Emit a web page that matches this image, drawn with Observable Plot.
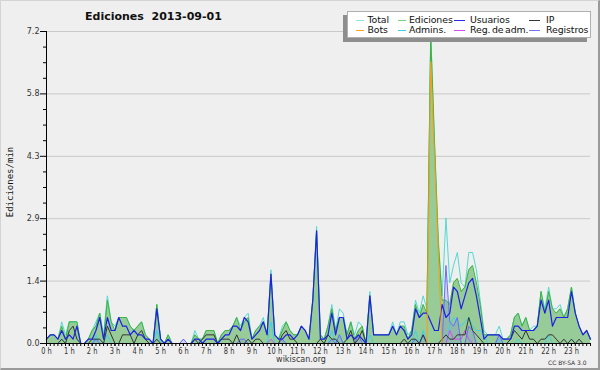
<!DOCTYPE html>
<html><head><meta charset="utf-8">
<script src="https://cdn.jsdelivr.net/npm/d3@7"></script>
<script src="https://cdn.jsdelivr.net/npm/@observablehq/plot@0.6"></script>
<style>
html,body{margin:0;padding:0;background:#ffffff;}
#chart{position:relative;width:600px;height:370px;overflow:hidden;background:#efefef;font-family:"DejaVu Sans",sans-serif;}
#chart svg{position:absolute;left:0;top:0;}
.abs{position:absolute;white-space:nowrap;line-height:1;}
#frame{position:absolute;left:0;top:0;width:600px;height:370px;box-sizing:border-box;border-top:1px solid #d4d4d4;border-left:1px solid #d4d4d4;border-right:2px solid #9a9a9a;border-bottom:2px solid #9a9a9a;pointer-events:none;}
#title{left:85px;top:11.4px;font-size:11px;font-weight:bold;color:#111;}
#legend{position:absolute;left:347px;top:11px;width:244px;height:27px;background:#fff;border:1px solid #b0b0b0;box-shadow:-4px 4px 0 #8e8e8e;box-sizing:border-box;}
.lg{position:absolute;font-family:"DejaVu Sans",sans-serif;font-size:9.4px;word-spacing:-1.3px;letter-spacing:-0.1px;line-height:1;color:#111;white-space:nowrap;}
.ls{position:absolute;height:1px;}
#ylab{left:10px;top:182px;transform:translate(-50%,-50%) rotate(-90deg);font-family:"DejaVu Sans Mono",monospace;font-size:9px;color:#111;}
#site{left:301px;top:356.2px;transform:translateX(-50%);font-size:8px;color:#333;}
#lic{left:548px;top:359.5px;font-size:6px;color:#333;}
</style></head>
<body><div id="chart"></div>
<script>
// ---- data (edits per minute, 10-minute bins, 2013-09-01) ----
const total = [
 [0.1,0.2,0.2,0.1,0.5,0.2],[0.5,0.5,0.5,0,0,0.1],[0.3,0.5,0.7,0.2,1.1,0.5],[0.4,0.6,0.6,0.6,0.4,0.3],
 [0.4,0.5,0.2,0.1,0,0.9],[0.1,0,0.2,0,0,0],[0.1,0,0,0.3,0.1,0.1],[0.3,0.3,0.3,0,0.2,0.3],
 [0.3,0.4,0.6,0.4,0.6,0.7],[0.1,0.3,0.4,0.6,0.2,1.7],[0.2,0.1,0.4,0.5,0.3,0.2],[0.2,0.4,0.3,0.1,1.0,2.7],
 [0.2,0.1,0.4,0.9,0.3,0.8],[0.7,0.2,0.5,0.2,0.5,0.4],[0,1.2,0.2,0.2,0.2,0.2],[0.2,0.5,0.2,0.5,0.5,0.2],
 [0.3,1.0,0.7,1.1,0.8,7.2],[4.7,2.4,1.1,2.9,1.4,1.8],[2.1,1.4,1.3,2.1,2.1,1.7],[1.0,0.3,0.2,0.2,0.2,0.4],
 [0.1,0.1,0.2,0.6,0.7,0.4],[0.6,0.3,0.4,0.4,1.2,0.8],[1.3,0.8,0.8,0.9,0.6,0.8],[1.3,0.7,0.4,0.2,0.3,0.1]
].flat();
const ediciones = [
 [0.1,0.2,0.2,0.1,0.4,0.1],[0.5,0.5,0.5,0,0,0.1],[0.3,0.4,0.7,0.1,1.0,0.5],[0.3,0.6,0.6,0.6,0.4,0.3],
 [0.4,0.5,0.2,0.1,0,0.9],[0.1,0,0.2,0,0,0],[0,0,0,0.2,0.1,0.1],[0.3,0.3,0.3,0,0.2,0.3],
 [0.3,0.4,0.6,0.3,0.5,0.6],[0.1,0.3,0.4,0.5,0.2,1.6],[0.2,0.1,0.3,0.5,0.3,0.2],[0.2,0.4,0.3,0.1,1.0,2.6],
 [0.2,0.1,0.4,0.8,0.3,0.6],[0.6,0.2,0.5,0.1,0.3,0.4],[0,1.1,0.2,0.2,0.2,0.2],[0.2,0.4,0.2,0.4,0.4,0.1],
 [0.3,0.9,0.6,0.9,0.7,7.1],[4.6,2.3,1.0,1.0,0.9,1.4],[1.5,1.2,1.3,1.7,1.8,1.4],[0.9,0.2,0.2,0.2,0.2,0.2],
 [0.1,0.1,0.2,0.6,0.7,0.4],[0.6,0.3,0.3,0.4,1.2,0.7],[1.2,0.8,0.7,0.8,0.6,0.8],[1.3,0.7,0.4,0.2,0.3,0.1]
].flat();
const usuarios = [
 [0.1,0.2,0.2,0.1,0.3,0.1],[0.2,0.1,0.4,0,0,0.1],[0.1,0.3,0.6,0.1,0.6,0.3],[0.3,0.6,0.4,0.4,0.2,0.3],
 [0.2,0.2,0.1,0.1,0,0.8],[0.1,0,0.1,0,0,0],[0,0,0,0.1,0.1,0],[0.1,0.1,0.1,0,0.1,0.2],
 [0.2,0.4,0.4,0.3,0.6,0.5],[0.1,0.2,0.3,0.5,0.2,1.6],[0.2,0.1,0.1,0.2,0.2,0.1],[0.2,0.4,0.3,0.1,1.0,2.6],
 [0.1,0.1,0.2,0.7,0.2,0.6],[0.6,0.1,0.2,0.1,0.2,0.1],[0,1.1,0.2,0.2,0.2,0.2],[0.2,0.4,0.2,0.4,0.3,0.1],
 [0.2,0.8,0.6,0.7,0.7,0.5],[0.3,0.3,0.9,0.6,0.7,1.3],[1.2,0.8,1.1,1.4,1.5,1.1],[0.6,0.1,0.2,0.2,0.2,0.2],
 [0.1,0.1,0.1,0.4,0.4,0.3],[0.3,0.3,0.3,0.4,1.0,0.7],[1.0,0.4,0.6,0.6,0.6,0.6],[1.2,0.7,0.4,0.2,0.3,0.1]
].flat();
const ip = [
 [0,0,0,0,0.1,0],[0.3,0.4,0.1,0,0,0],[0.1,0.1,0.1,0,0.4,0.2],[0,0,0.2,0.2,0.2,0],
 [0.2,0.3,0.1,0,0,0.1],[0,0,0.1,0,0,0],[0,0,0,0.1,0,0.1],[0.2,0.2,0.2,0,0.1,0.1],
 [0.1,0,0.2,0,0,0.1],[0,0.1,0.1,0,0,0],[0,0,0.2,0.3,0.1,0.1],[0,0,0,0,0,0],
 [0.1,0,0.2,0.1,0.1,0],[0,0.1,0.3,0,0.1,0.3],[0,0,0,0,0,0],[0,0,0,0,0.1,0],
 [0.1,0.1,0,0.2,0,0],[0,0,0.1,0.2,0.1,0.1],[0.2,0.2,0.2,0.6,0.3,0.2],[0.1,0,0,0,0,0],
 [0,0,0.1,0.3,0.2,0.1],[0.3,0.1,0.1,0,0.1,0.1],[0.2,0.2,0.1,0,0.1,0],[0.1,0,0.1,0,0,0]
].flat();
const bots = [
 [0,0,0,0,0,0],[0,0,0,0,0,0],[0,0,0,0,0,0],[0,0,0,0,0,0],[0,0,0,0,0,0],[0,0,0,0,0,0],
 [0,0,0,0,0,0],[0,0,0,0,0,0],[0,0,0,0,0,0],[0,0,0,0,0,0],[0,0,0,0,0,0],[0,0,0,0,0,0],
 [0,0,0,0,0,0],[0,0,0,0,0,0],[0,0,0,0,0,0],[0,0,0,0,0,0],[0,0,0,0,0,6.5],[4.3,2.1,0,0,0,0],
 [0,0,0,0,0,0],[0,0,0,0,0,0],[0,0,0,0,0,0],[0,0,0,0,0,0],[0,0,0,0,0,0],[0,0,0,0,0,0]
].flat();
const admins = [
 [0,0,0,0,0.1,0],[0,0,0,0,0,0],[0,0.2,0,0,0.2,0],[0,0,0,0,0,0],[0,0,0,0,0,0.3],[0,0,0,0,0,0],
 [0,0,0,0,0,0],[0,0,0,0,0,0],[0,0,0,0,0,0],[0,0,0,0,0,0.5],[0,0,0,0,0,0],[0,0,0,0,0,0],
 [0,0,0,0.3,0,0.2],[0,0,0,0,0,0],[0,0.2,0,0,0,0],[0,0,0,0,0,0],[0,0.3,0,0.3,0,0],[0,0,0,0,0.4,0.6],
 [0.5,0.4,0.5,0.6,0.4,0.3],[0.3,0.2,0,0,0,0.1],[0,0,0,0,0.1,0],[0,0,0,0,0,0],[0.2,0,0,0,0,0],[0.1,0,0,0,0,0]
].flat();
const regAdm = [
 [0,0,0,0,0,0],[0,0,0,0,0,0],[0,0,0,0,0,0],[0,0,0,0,0,0],[0,0,0,0,0,0],[0,0,0,0,0,0],
 [0,0,0,0,0,0],[0,0,0,0,0,0],[0,0,0,0,0,0],[0,0,0,0,0,0.1],[0,0,0,0,0,0],[0,0,0,0,0,0],
 [0,0,0,0,0,0],[0,0,0,0,0,0],[0,0,0,0,0,0],[0,0,0,0,0,0],[0,0,0,0,0,0],[0,0,0,0,0.3,0.1],
 [0.1,0.1,0.3,0.1,0,0],[0,0,0,0,0,0],[0,0,0,0,0,0],[0,0,0,0,0,0],[0,0,0,0,0,0],[0,0,0,0,0,0]
].flat();
const registros = [
 [0,0,0,0,0,0],[0,0,0,0,0,0],[0,0.1,0,0,0,0],[0,0,0,0,0,0],[0,0,0,0,0,0],[0,0,0,0,0,0],
 [0.1,0,0,0,0,0],[0,0,0,0,0,0],[0,0,0,0.1,0.1,0],[0,0,0,0,0,0],[0,0,0.1,0,0,0],[0,0,0,0,0,0],
 [0,0,0,0.1,0,0.2],[0,0,0,0,0.2,0],[0,0,0,0,0,0],[0,0,0,0,0,0],[0,0.1,0,0.2,0,0],[0,0,0,1.8,0.5,0.4],
 [0.6,0,0,0.4,0.3,0],[0,0,0,0,0,0.2],[0,0,0,0,0,0],[0,0,0,0,0,0],[0,0,0,0,0,0],[0,0,0,0,0,0]
].flat();

// ---- ticks & labels ----
const hourLabels = ["0 h","1 h","2 h","3 h","4 h","5 h","6 h","7 h","8 h","9 h","10 h","11 h","12 h","13 h","14 h","15 h","16 h","17 h","18 h","19 h","20 h","21 h","22 h","23 h"];
const hourMinutes = [0,60,120,180,240,300,360,420,480,540,600,660,720,780,840,900,960,1020,1080,1140,1200,1260,1320,1380];
const yTicks = [0,1.44,2.88,4.32,5.76,7.2];
const yLabels = ["0.0","1.4","2.9","4.3","5.8","7.2"];
const yMinor = [0.36,0.72,1.08,1.8,2.16,2.52,3.24,3.6,3.96,4.68,5.04,5.4,6.12,6.48,6.84];

const seriesNames = ["Total","Ediciones","Usuarios","IP","Bots","Admins.","Reg. de adm.","Registros"];
const seriesColors = ["#8ee6e0","#7fd07f","#2b2bee","#333333","#ffa31a","#3cd2ea","#d24ef0","#7474ff"];

const binMinutes = ediciones.map((_, i) => i * 10);
const rows = binMinutes.map((t, i) => ({t, total: total[i], ed: ediciones[i], us: usuarios[i], ip: ip[i],
  bots: bots[i], adm: admins[i], reg: regAdm[i], log: registros[i]}));

const line = (key, stroke, w = 1) => Plot.lineY(rows, {x: "t", y: key, stroke, strokeWidth: w});
const labelOf = new Map(hourMinutes.map((m, i) => [m, hourLabels[i]]));
const yLabelOf = new Map(yTicks.map((v, i) => [v, yLabels[i]]));

const chart = Plot.plot({
  width: 600, height: 370,
  marginLeft: 46, marginRight: 10, marginTop: 31, marginBottom: 27,
  style: {background: "transparent", fontFamily: "DejaVu Sans, sans-serif", color: "#222", overflow: "visible"},
  x: {domain: [0, 1430], axis: null},
  y: {domain: [0, 7.2], axis: null, label: null},
  marks: [
    Plot.gridY(yTicks, {stroke: "#c9c9c9", strokeOpacity: 1}),
    Plot.areaY(rows, {x: "t", y: "ed", fill: "#97cb97", fillOpacity: 1}),
    Plot.areaY(rows, {x: "t", y: "log", fill: "#7474ff", fillOpacity: 0.2}),
    line("total", "#55d8d2"),
    line("ed", "#3cb43c"),
    line("adm", "#3cd2ea"),
    line("reg", "#d24ef0"),
    line("log", "#6b6bff"),
    line("ip", "#333333"),
    line("us", "#1f1fe6", 1.2),
    line("bots", "#ff9c10"),
    Plot.ruleX([0], {stroke: "#000"}),
    Plot.ruleY([0], {stroke: "#000"}),
    Plot.axisY({ticks: yTicks, tickFormat: d => yLabelOf.get(d), tickSize: 6, tickPadding: 1, fontSize: 8, label: null, stroke: "#000", fill: "#333"}),
    Plot.axisY({ticks: yMinor, tickFormat: () => "", tickSize: 3, label: null, stroke: "#000"}),
    Plot.axisX({ticks: binMinutes.concat([1430]), tickFormat: () => "", tickSize: 3, label: null, stroke: "#000"}),
    Plot.axisX({ticks: hourMinutes, tickFormat: d => labelOf.get(d), tickSize: 3, tickPadding: 1, fontSize: 9,
      label: null, stroke: "#000", fill: "#333"})
  ]
});

const root = document.getElementById("chart");
root.appendChild(chart);

// narrow the hour labels (the reference uses a condensed pixel font)
const hourSet = new Set(hourLabels);
Array.from(chart.querySelectorAll("text")).filter(t => hourSet.has(t.textContent.trim())).forEach(t => {
  const len = t.getComputedTextLength();
  if (len > 0) {
    t.setAttribute("textLength", (len * 0.74).toFixed(1));
    t.setAttribute("lengthAdjust", "spacingAndGlyphs");
  }
});

function addDiv(id, cls, text) {
  const d = document.createElement("div");
  if (id) d.id = id;
  if (cls) d.className = cls;
  if (text != null) d.textContent = text;
  root.appendChild(d);
  return d;
}
addDiv("title", "abs", "Ediciones  2013-09-01").style.whiteSpace = "pre";
addDiv("ylab", "abs", "Ediciones/min");
addDiv("site", "abs", "wikiscan.org");
addDiv("lic", "abs", "CC BY-SA 3.0");

// legend (HTML, 4 columns x 2 rows)
const legend = addDiv("legend", null, null);
const colLine = [8, 49.5, 106, 181];   // relative to legend box
const colText = [19.5, 61, 122, 198];
const rowY = [7.8, 17.8];
seriesNames.forEach((name, k) => {
  const c = k % 4, r = Math.floor(k / 4);
  const s = document.createElement("div");
  s.className = "ls";
  s.style.left = colLine[c] + "px";
  s.style.top = rowY[r] + "px";
  s.style.width = (c >= 2 ? 11 : 8) + "px";
  s.style.background = seriesColors[k];
  legend.appendChild(s);
  const t = document.createElement("div");
  t.className = "lg";
  t.style.left = colText[c] + "px";
  t.style.top = (rowY[r] - 5.2) + "px";
  t.textContent = name;
  legend.appendChild(t);
});
addDiv("frame", null, null);
</script>
</body></html>
